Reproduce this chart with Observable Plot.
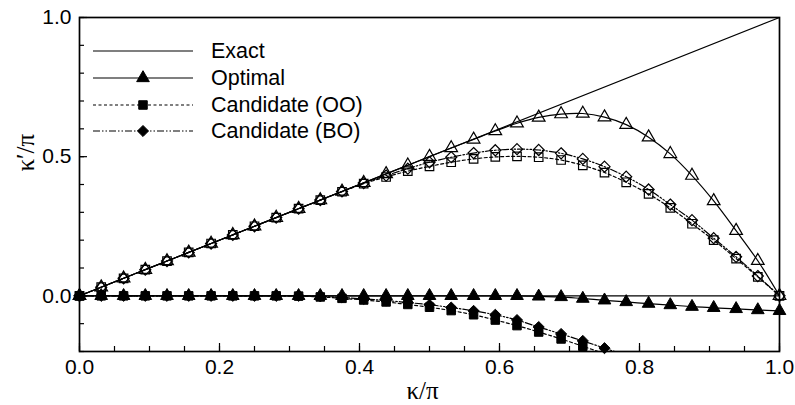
<!DOCTYPE html>
<html><head><meta charset="utf-8">
<script src="https://cdn.jsdelivr.net/npm/d3@7"></script>
<script src="https://cdn.jsdelivr.net/npm/@observablehq/plot@0.6"></script>
<style>
body{margin:0;background:#fff;}
#chart{position:relative;width:795px;height:405px;}
#chart svg{position:absolute;left:0;top:0;}
</style></head><body><div id="chart"></div>
<script>
// ---- data ----
const kappa = [0, 0.031, 0.063, 0.094, 0.125, 0.156, 0.188, 0.219, 0.25, 0.281, 0.313, 0.344, 0.375, 0.406, 0.438, 0.469, 0.5, 0.531, 0.563, 0.594, 0.625, 0.656, 0.688, 0.719, 0.75, 0.781, 0.813, 0.844, 0.875, 0.906, 0.938, 0.969, 1.0];
const exactKappa = [0, 1];
const exactRe = [0, 1];
const exactIm = [0, 0];
const optimalRe = [0, 0.031, 0.063, 0.094, 0.125, 0.156, 0.188, 0.219, 0.25, 0.281, 0.313, 0.344, 0.375, 0.406, 0.438, 0.469, 0.5, 0.531, 0.562, 0.592, 0.620, 0.641, 0.653, 0.655, 0.642, 0.615, 0.570, 0.510, 0.432, 0.341, 0.234, 0.126, 0];
const optimalIm = [0, 0, 0, 0, 0, 0, 0, 0, 0, 0, 0, 0, 0, 0, 0, 0, 0, 0, 0, 0, 0, -0.002, -0.004, -0.010, -0.016, -0.022, -0.028, -0.033, -0.039, -0.043, -0.047, -0.051, -0.054];
const ooRe = [0, 0.031, 0.063, 0.094, 0.125, 0.156, 0.188, 0.219, 0.25, 0.281, 0.313, 0.344, 0.374, 0.403, 0.427, 0.448, 0.465, 0.480, 0.492, 0.499, 0.501, 0.498, 0.488, 0.469, 0.443, 0.408, 0.366, 0.316, 0.259, 0.200, 0.134, 0.068, 0];
const ooIm = [0, 0, 0, 0, 0, 0, 0, 0, 0, 0, -0.001, -0.004, -0.009, -0.015, -0.022, -0.031, -0.041, -0.053, -0.068, -0.087, -0.107, -0.130, -0.155, -0.181, -0.208];
const boRe = [0, 0.031, 0.063, 0.094, 0.125, 0.156, 0.188, 0.219, 0.25, 0.281, 0.313, 0.344, 0.375, 0.405, 0.432, 0.457, 0.480, 0.498, 0.513, 0.523, 0.527, 0.524, 0.512, 0.492, 0.464, 0.428, 0.382, 0.328, 0.272, 0.207, 0.140, 0.071, 0];
const boIm = [0, 0, 0, 0, 0, 0, 0, 0, 0, 0, 0, -0.002, -0.006, -0.011, -0.017, -0.024, -0.032, -0.042, -0.054, -0.068, -0.087, -0.112, -0.137, -0.162, -0.188, -0.214];
const seriesNames = ["Exact", "Optimal", "Candidate (OO)", "Candidate (BO)"];
const xLabel = "κ/π";
const yLabel = "κ′/π";
const xMajorTicks = [0, 0.2, 0.4, 0.6, 0.8, 1.0];
const xMinorTicks = [0, 0.05, 0.1, 0.15, 0.2, 0.25, 0.3, 0.35, 0.4, 0.45, 0.5, 0.55, 0.6, 0.65, 0.7, 0.75, 0.8, 0.85, 0.9, 0.95, 1.0];
const yMajorTicks = [0, 0.5, 1.0];
const yMinorTicks = [-0.2, -0.1, 0, 0.1, 0.2, 0.3, 0.4, 0.5, 0.6, 0.7, 0.8, 0.9, 1.0];

// ---- layout / style ----
const W = 795, H = 405, mL = 79, mR = 16, mT = 17, mB = 54;
const frameW = W - mL - mR, frameH = H - mT - mB;
const styles = {
  "Exact":          {dash: null, symbol: null, r: 0},
  "Optimal":        {dash: null, symbol: "triangle", r: 4.7},
  "Candidate (OO)": {dash: "3,2.5", symbol: "square", r: 4.8},
  "Candidate (BO)": {dash: "7,2,1.5,2,1.5,2", symbol: "diamond2", r: 5.0}
};
const yMin = -0.2;
const fontSans = "'Liberation Sans', Arial, Helvetica, sans-serif";
const fontSerif = "'Liberation Serif', 'Times New Roman', serif";
function rows(xs, ys) { return ys.map((y, i) => ({x: xs[i], y})); }

const series = [
  {name: "Optimal", re: rows(kappa, optimalRe), im: rows(kappa, optimalIm)},
  {name: "Candidate (OO)", re: rows(kappa, ooRe), im: rows(kappa, ooIm)},
  {name: "Candidate (BO)", re: rows(kappa, boRe), im: rows(kappa, boIm)}
];

const dataMarks = [];
dataMarks.push(Plot.line(rows(exactKappa, exactRe), {x: "x", y: "y", stroke: "black", strokeWidth: 1.1}));
dataMarks.push(Plot.line(rows(exactKappa, exactIm), {x: "x", y: "y", stroke: "black", strokeWidth: 1.1}));
for (const s of series) {
  const st = styles[s.name];
  for (const part of [s.re, s.im]) {
    dataMarks.push(Plot.line(part, {x: "x", y: "y", stroke: "black", strokeWidth: 1.2, strokeDasharray: st.dash, curve: "catmull-rom", clip: true}));
  }
}
for (const s of series) {
  const st = styles[s.name];
  dataMarks.push(Plot.dot(s.re, {x: "x", y: "y", symbol: st.symbol, r: st.r, stroke: "black", strokeWidth: 1.2, fill: "none"}));
  dataMarks.push(Plot.dot(s.im, {filter: d => d.y >= yMin, x: "x", y: "y", symbol: st.symbol, r: st.r, stroke: "black", strokeWidth: 1, fill: "black"}));
}

const chart = Plot.plot({
  width: W, height: H,
  marginLeft: mL, marginRight: mR, marginTop: mT, marginBottom: mB,
  style: {fontFamily: fontSans, fontSize: "21px", background: "white", color: "black", overflow: "visible"},
  x: {domain: [0, 1]},
  y: {domain: [yMin, 1]},
  marks: [
    Plot.axisX({ticks: xMajorTicks, tickSize: 0, tickPadding: 8, tickFormat: d3.format(".1f"), label: null, fontSize: 21}),
    Plot.axisY({ticks: yMajorTicks, tickSize: 0, tickPadding: 8, tickFormat: d3.format(".1f"), label: null, fontSize: 21}),
    Plot.tickX(xMinorTicks, {x: d => d, insetTop: frameH - 5, stroke: "black", strokeWidth: 1.2}),
    Plot.tickX(xMajorTicks, {x: d => d, insetTop: frameH - 8, stroke: "black", strokeWidth: 1.2}),
    Plot.tickY(yMinorTicks, {y: d => d, insetRight: frameW - 5, stroke: "black", strokeWidth: 1.2}),
    Plot.tickY(yMajorTicks, {y: d => d, insetRight: frameW - 8, stroke: "black", strokeWidth: 1.2}),
    ...dataMarks,
    Plot.frame({stroke: "black", strokeWidth: 1.7}),
    Plot.text([xLabel], {frameAnchor: "bottom", dx: -7, dy: 39, text: d => d, lineAnchor: "middle", fontFamily: fontSerif, fontSize: 25, fill: "black"}),
    Plot.text([yLabel], {frameAnchor: "left", dx: -54, dy: -13, rotate: -90, text: d => d, lineAnchor: "middle", fontFamily: fontSerif, fontSize: 25, fill: "black"})
  ]
});
const root = document.getElementById("chart");
root.appendChild(chart);

// ---- legend overlay ----
const leg = d3.select(root).append("svg").attr("width", W).attr("height", H).style("pointer-events", "none");
const legRows = [51, 78, 105, 131];
const symMap = {triangle: d3.symbolTriangle, square: d3.symbolSquare, diamond2: d3.symbolDiamond2};
seriesNames.forEach((name, i) => {
  const st = styles[name];
  const y = legRows[i];
  leg.append("line").attr("x1", 93).attr("x2", 193).attr("y1", y).attr("y2", y)
    .attr("stroke", "black").attr("stroke-width", 1.2).attr("stroke-dasharray", st.dash);
  if (st.symbol) {
    leg.append("path").attr("d", d3.symbol(symMap[st.symbol], Math.PI * st.r * st.r)())
      .attr("transform", `translate(143,${y})`).attr("fill", "black").attr("stroke", "black");
  }
  leg.append("text").attr("x", 211).attr("y", y + 7).text(name)
    .attr("font-family", fontSans).attr("font-size", 21.5).attr("fill", "black");
});
</script></body></html>
